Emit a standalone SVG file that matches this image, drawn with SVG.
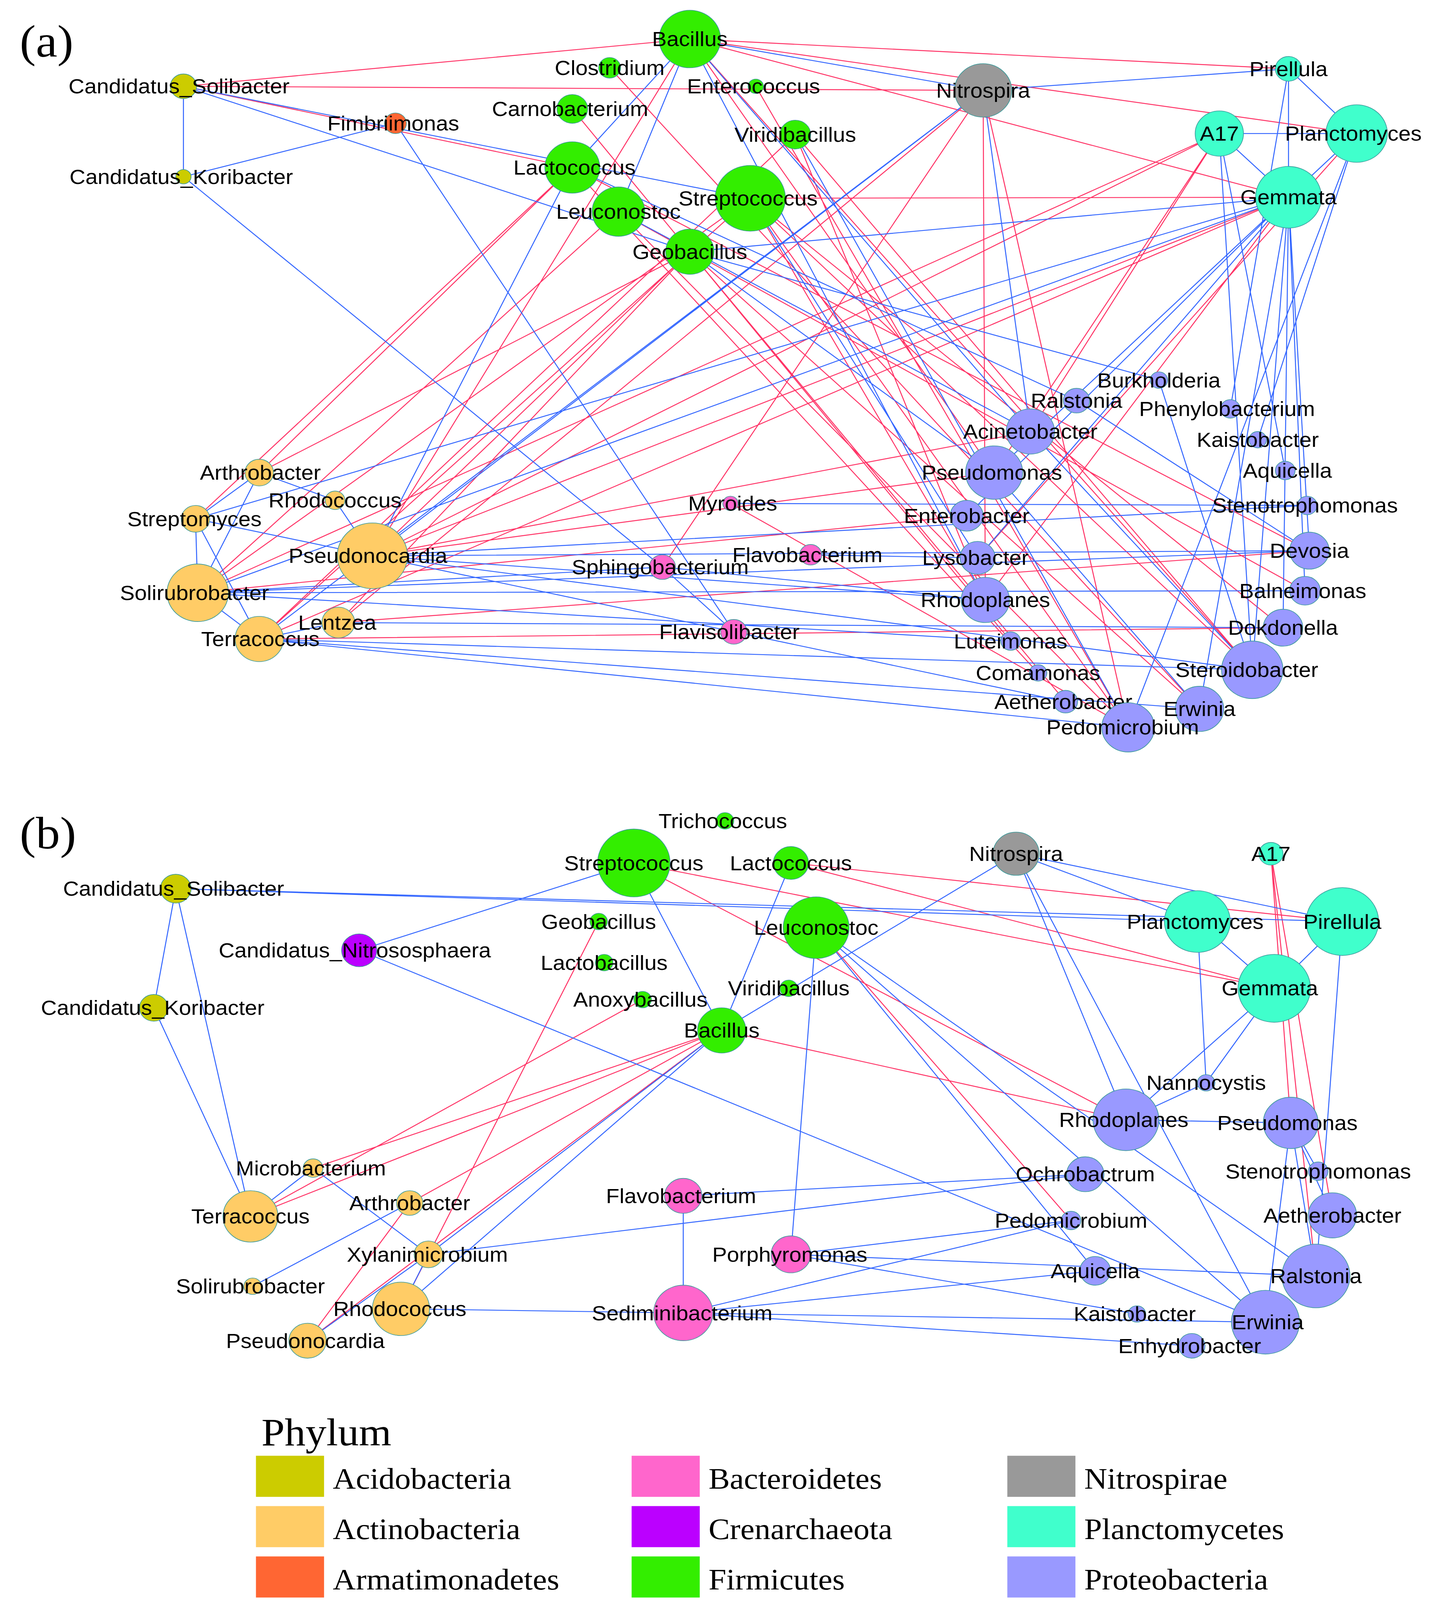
<svg xmlns="http://www.w3.org/2000/svg" width="3685" height="4430" viewBox="0 0 3685 4430">
<style>
.r{fill:none;stroke:#ff3366;stroke-width:0.9}
.b{fill:none;stroke:#3366ff;stroke-width:0.9}
circle{stroke:#3a9a9a;stroke-width:0.6}
text{font-family:"Liberation Sans",Arial,sans-serif;font-size:20px;fill:#000;text-anchor:middle}
.ser{font-family:"Liberation Serif","Times New Roman",serif;text-anchor:start}
.ac{fill:#cccc00}.at{fill:#ffcc66}.am{fill:#ff6633}.bc{fill:#ff66cc}.cr{fill:#bb00ff}.fi{fill:#33ee00}.ni{fill:#999999}.pl{fill:#40ffcc}.pr{fill:#9999ff}
</style>
<rect width="3685" height="4430" fill="#fff"/>
<g transform="scale(2.813 2.63)">
<text class="ser" x="18" y="55" style="font-size:44px">(a)</text>
<text class="ser" x="18" y="826" style="font-size:44px">(b)</text>
<g id="connectors">
<path class="r" d="M628 38L905 460M628 38L1140 652M628 38L339 541M628 38L1173 192M628 38L167 84M628 38L1235 130M628 38L1173 67M683 193L1027 708M683 193L1140 652M683 193L236 622M683 193L180 577M683 193L1168 611M683 193L897 584M683 193L1173 192M628 245L236 460M628 245L339 541M628 245L1092 690M628 245L970 683M628 245L308 606M521 163L236 460M521 163L1192 536M521 163L945 655M521 163L178 505M563 206L180 577M563 206L1027 708M563 206L1188 575M724 131L1140 652M724 131L897 584M724 131L236 622M521 106L920 624M555 66L1092 690M688 84L1027 708M895 88L1027 708M895 88L897 584M895 88L603 552M895 88L308 606M1110 130L339 541M1110 130L180 577M1110 130L938 420M1110 130L905 460M1173 192L339 541M1173 192L236 622M1235 130L890 543M1173 192L897 584M339 541L905 460M339 541L938 420M180 577L880 502M236 622L1168 611M308 606L1192 536M167 84L521 163M167 84L895 88M665 490L1027 708"/>
<path class="b" d="M167 84L167 172M167 84L628 245M167 84L683 193M167 172L603 552M360 120L167 172M360 120L668 615M628 38L521 163M628 38L895 88M628 38L563 206M628 38L938 420M628 38L897 584M1173 192L1235 130M1173 192L1110 130M1173 192L1173 67M1235 130L1110 130M1173 67L1235 130M1173 192L1192 536M1173 192L1140 652M1173 192L1092 690M1173 192L1188 575M1173 192L1168 611M1173 192L890 543M1173 192L880 502M1173 192L180 577M1173 192L178 505M1173 192L628 245M1235 130L1027 708M1235 130L905 460M1235 130L1145 428M1110 130L1170 458M1110 130L1140 652M1173 67L895 88M1173 67L1120 398M895 88L339 541M895 88L236 622M895 88L938 420M339 541L1192 536M339 541L1190 492M339 541L1140 652M339 541L897 584M180 577L603 552M180 577L1192 536M180 577L1188 575M180 577L920 624M236 622L1027 708M236 622L1140 652M236 622L1092 690M308 606L1168 611M236 460L178 505M236 460L180 577M178 505L180 577M178 505L236 622M180 577L236 622M603 552L668 615M738 540L890 543M665 490L1190 492M603 552L897 584M668 615L339 541M668 615L970 683M683 193L890 543M563 206L938 420M521 163L980 390M628 245L905 460M628 245L1055 370M724 131L1027 708M938 420L1140 652M905 460L1092 690M980 390L1192 536M1055 370L1140 652M339 541L521 163M236 460L305 487M305 487L339 541M308 606L236 622M178 505L339 541"/>
<path class="r" d="M577 840L1160 962M577 840L1025 1090M720 840L1222 897M720 840L1160 962M657 1003L228 1184M657 1003L1025 1090M657 1003L280 1305M657 1003L373 1171M657 1003L285 1137M545 897L365 1274M585 973L228 1184M1157 831L1175 1093M1157 831L1213 1183M1157 831L1198 1242M280 1305L373 1171M743 903L975 1188"/>
<path class="b" d="M160 865L140 981M160 865L228 1184M140 981L228 1184M160 865L1090 897M160 865L1222 897M327 925L577 840M327 925L1152 1287M577 840L657 1003M720 840L657 1003M743 903L720 1221M743 903L1152 1287M743 903L1198 1242M743 903L997 1237M657 1003L365 1274M657 1003L390 1221M925 831L1152 1287M925 831L1025 1090M925 831L1222 897M925 831L1090 897M925 831L657 1003M1090 897L1160 962M1222 897L1160 962M1160 962L1098 1054M1160 962L1025 1090M1090 897L1098 1054M1222 897L1198 1242M1175 1093L1025 1090M1175 1093L1198 1242M1175 1093L1152 1287M1098 1054L1025 1090M988 1143L622 1164M988 1143L390 1221M975 1188L720 1221M997 1237L622 1278M720 1221L1035 1279M720 1221L1198 1242M622 1278L1152 1287M622 1278L1085 1310M622 1278L365 1274M622 1164L622 1278M228 1184L285 1137M285 1137L390 1221M373 1171L230 1252M365 1274L390 1221M280 1305L390 1221M1200 1140L1175 1093M1213 1183L1175 1093M622 1278L975 1188"/>
</g>
<g id="a-CS"><circle class="ac" cx="167" cy="84" r="12"/><text x="163" y="91">Candidatus_Solibacter</text></g>
<g id="a-CK"><circle class="ac" cx="167" cy="172" r="7"/><text x="165" y="179">Candidatus_Koribacter</text></g>
<g id="a-Fim"><circle class="am" cx="360" cy="120" r="10"/><text x="358" y="127">Fimbriimonas</text></g>
<g id="a-Bac"><circle class="fi" cx="628" cy="38" r="28"/><text x="628" y="45">Bacillus</text></g>
<g id="a-Clo"><circle class="fi" cx="555" cy="66" r="10"/><text x="555" y="73">Clostridium</text></g>
<g id="a-Ent"><circle class="fi" cx="688" cy="84" r="7"/><text x="686" y="91">Enterococcus</text></g>
<g id="a-Car"><circle class="fi" cx="521" cy="106" r="14"/><text x="519" y="113">Carnobacterium</text></g>
<g id="a-Vir"><circle class="fi" cx="724" cy="131" r="14"/><text x="724" y="138">Viridibacillus</text></g>
<g id="a-Lac"><circle class="fi" cx="521" cy="163" r="25"/><text x="523" y="170">Lactococcus</text></g>
<g id="a-Leu"><circle class="fi" cx="563" cy="206" r="24"/><text x="563" y="213">Leuconostoc</text></g>
<g id="a-Str"><circle class="fi" cx="683" cy="193" r="32"/><text x="681" y="200">Streptococcus</text></g>
<g id="a-Geo"><circle class="fi" cx="628" cy="245" r="22"/><text x="628" y="252">Geobacillus</text></g>
<g id="a-Nit"><circle class="ni" cx="895" cy="88" r="26"/><text x="895" y="95">Nitrospira</text></g>
<g id="a-Pir"><circle class="pl" cx="1173" cy="67" r="12"/><text x="1173" y="74">Pirellula</text></g>
<g id="a-A17"><circle class="pl" cx="1110" cy="130" r="22"/><text x="1110" y="137">A17</text></g>
<g id="a-Pla"><circle class="pl" cx="1235" cy="130" r="28"/><text x="1232" y="137">Planctomyces</text></g>
<g id="a-Gem"><circle class="pl" cx="1173" cy="192" r="30"/><text x="1173" y="199">Gemmata</text></g>
<g id="a-Bur"><circle class="pr" cx="1055" cy="370" r="8"/><text x="1055" y="377">Burkholderia</text></g>
<g id="a-Ral"><circle class="pr" cx="980" cy="390" r="12"/><text x="980" y="397">Ralstonia</text></g>
<g id="a-Phe"><circle class="pr" cx="1120" cy="398" r="9"/><text x="1117" y="405">Phenylobacterium</text></g>
<g id="a-Aci"><circle class="pr" cx="938" cy="420" r="22"/><text x="938" y="427">Acinetobacter</text></g>
<g id="a-Kai"><circle class="pr" cx="1145" cy="428" r="8"/><text x="1145" y="435">Kaistobacter</text></g>
<g id="a-Pse"><circle class="pr" cx="905" cy="460" r="26"/><text x="903" y="467">Pseudomonas</text></g>
<g id="a-Aqu"><circle class="pr" cx="1170" cy="458" r="9"/><text x="1172" y="465">Aquicella</text></g>
<g id="a-Stn"><circle class="pr" cx="1190" cy="492" r="9"/><text x="1188" y="499">Stenotrophomonas</text></g>
<g id="a-Ent2"><circle class="pr" cx="880" cy="502" r="15"/><text x="880" y="509">Enterobacter</text></g>
<g id="a-Dev"><circle class="pr" cx="1192" cy="536" r="18"/><text x="1192" y="543">Devosia</text></g>
<g id="a-Lys"><circle class="pr" cx="890" cy="543" r="16"/><text x="888" y="550">Lysobacter</text></g>
<g id="a-Bal"><circle class="pr" cx="1188" cy="575" r="14"/><text x="1186" y="582">Balneimonas</text></g>
<g id="a-Rho"><circle class="pr" cx="897" cy="584" r="22"/><text x="897" y="591">Rhodoplanes</text></g>
<g id="a-Dok"><circle class="pr" cx="1168" cy="611" r="18"/><text x="1168" y="618">Dokdonella</text></g>
<g id="a-Lut"><circle class="pr" cx="920" cy="624" r="9"/><text x="920" y="631">Luteimonas</text></g>
<g id="a-Ste"><circle class="pr" cx="1140" cy="652" r="28"/><text x="1135" y="659">Steroidobacter</text></g>
<g id="a-Com"><circle class="pr" cx="945" cy="655" r="8"/><text x="945" y="662">Comamonas</text></g>
<g id="a-Aet"><circle class="pr" cx="970" cy="683" r="11"/><text x="968" y="690">Aetherobacter</text></g>
<g id="a-Erw"><circle class="pr" cx="1092" cy="690" r="22"/><text x="1092" y="697">Erwinia</text></g>
<g id="a-Ped"><circle class="pr" cx="1027" cy="708" r="24"/><text x="1022" y="715">Pedomicrobium</text></g>
<g id="a-Myr"><circle class="bc" cx="665" cy="490" r="7"/><text x="667" y="497">Myroides</text></g>
<g id="a-Flv"><circle class="bc" cx="738" cy="540" r="10"/><text x="735" y="547">Flavobacterium</text></g>
<g id="a-Sph"><circle class="bc" cx="603" cy="552" r="12"/><text x="601" y="559">Sphingobacterium</text></g>
<g id="a-Fls"><circle class="bc" cx="668" cy="615" r="12"/><text x="664" y="622">Flavisolibacter</text></g>
<g id="a-Art"><circle class="at" cx="236" cy="460" r="13"/><text x="237" y="467">Arthrobacter</text></g>
<g id="a-Rco"><circle class="at" cx="305" cy="487" r="9"/><text x="305" y="494">Rhodococcus</text></g>
<g id="a-Stm"><circle class="at" cx="178" cy="505" r="13"/><text x="177" y="512">Streptomyces</text></g>
<g id="a-Pnc"><circle class="at" cx="339" cy="541" r="32"/><text x="335" y="548">Pseudonocardia</text></g>
<g id="a-Sol"><circle class="at" cx="180" cy="577" r="28"/><text x="177" y="584">Solirubrobacter</text></g>
<g id="a-Len"><circle class="at" cx="308" cy="606" r="15"/><text x="307" y="613">Lentzea</text></g>
<g id="a-Ter"><circle class="at" cx="236" cy="622" r="22"/><text x="237" y="629">Terracoccus</text></g>
<g id="b-Tri"><circle class="fi" cx="660" cy="799" r="8"/><text x="658" y="806">Trichococcus</text></g>
<g id="b-Str"><circle class="fi" cx="577" cy="840" r="33"/><text x="577" y="847">Streptococcus</text></g>
<g id="b-Lac"><circle class="fi" cx="720" cy="840" r="16"/><text x="720" y="847">Lactococcus</text></g>
<g id="b-Geo"><circle class="fi" cx="545" cy="897" r="8"/><text x="545" y="904">Geobacillus</text></g>
<g id="b-Leu"><circle class="fi" cx="743" cy="903" r="30"/><text x="743" y="910">Leuconostoc</text></g>
<g id="b-Lcb"><circle class="fi" cx="550" cy="937" r="8"/><text x="550" y="944">Lactobacillus</text></g>
<g id="b-Vir"><circle class="fi" cx="718" cy="962" r="8"/><text x="718" y="969">Viridibacillus</text></g>
<g id="b-Anx"><circle class="fi" cx="585" cy="973" r="8"/><text x="583" y="980">Anoxybacillus</text></g>
<g id="b-Bac"><circle class="fi" cx="657" cy="1003" r="22"/><text x="657" y="1010">Bacillus</text></g>
<g id="b-Nit"><circle class="ni" cx="925" cy="831" r="21"/><text x="925" y="838">Nitrospira</text></g>
<g id="b-A17"><circle class="pl" cx="1157" cy="831" r="11"/><text x="1157" y="838">A17</text></g>
<g id="b-Pla"><circle class="pl" cx="1090" cy="897" r="30"/><text x="1088" y="904">Planctomyces</text></g>
<g id="b-Pir"><circle class="pl" cx="1222" cy="897" r="33"/><text x="1222" y="904">Pirellula</text></g>
<g id="b-Gem"><circle class="pl" cx="1160" cy="962" r="33"/><text x="1156" y="969">Gemmata</text></g>
<g id="b-CS"><circle class="ac" cx="160" cy="865" r="14"/><text x="158" y="872">Candidatus_Solibacter</text></g>
<g id="b-Nso"><circle class="cr" cx="327" cy="925" r="16"/><text x="323" y="932">Candidatus_Nitrososphaera</text></g>
<g id="b-CK"><circle class="ac" cx="140" cy="981" r="13"/><text x="139" y="988">Candidatus_Koribacter</text></g>
<g id="b-Nan"><circle class="pr" cx="1098" cy="1054" r="8"/><text x="1098" y="1061">Nannocystis</text></g>
<g id="b-Rhp"><circle class="pr" cx="1025" cy="1090" r="30"/><text x="1023" y="1097">Rhodoplanes</text></g>
<g id="b-Pse"><circle class="pr" cx="1175" cy="1093" r="25"/><text x="1172" y="1100">Pseudomonas</text></g>
<g id="b-Stn"><circle class="pr" cx="1200" cy="1140" r="9"/><text x="1200" y="1147">Stenotrophomonas</text></g>
<g id="b-Och"><circle class="pr" cx="988" cy="1143" r="17"/><text x="988" y="1150">Ochrobactrum</text></g>
<g id="b-Aet"><circle class="pr" cx="1213" cy="1183" r="22"/><text x="1213" y="1190">Aetherobacter</text></g>
<g id="b-Ped"><circle class="pr" cx="975" cy="1188" r="9"/><text x="975" y="1195">Pedomicrobium</text></g>
<g id="b-Aqu"><circle class="pr" cx="997" cy="1237" r="14"/><text x="997" y="1244">Aquicella</text></g>
<g id="b-Ral"><circle class="pr" cx="1198" cy="1242" r="31"/><text x="1198" y="1249">Ralstonia</text></g>
<g id="b-Kai"><circle class="pr" cx="1035" cy="1279" r="8"/><text x="1033" y="1286">Kaistobacter</text></g>
<g id="b-Erw"><circle class="pr" cx="1152" cy="1287" r="31"/><text x="1154" y="1294">Erwinia</text></g>
<g id="b-Enh"><circle class="pr" cx="1085" cy="1310" r="12"/><text x="1083" y="1317">Enhydrobacter</text></g>
<g id="b-Mic"><circle class="at" cx="285" cy="1137" r="9"/><text x="283" y="1144">Microbacterium</text></g>
<g id="b-Ter"><circle class="at" cx="228" cy="1184" r="25"/><text x="228" y="1191">Terracoccus</text></g>
<g id="b-Art"><circle class="at" cx="373" cy="1171" r="12"/><text x="373" y="1178">Arthrobacter</text></g>
<g id="b-Xyl"><circle class="at" cx="390" cy="1221" r="13"/><text x="389" y="1228">Xylanimicrobium</text></g>
<g id="b-Sol"><circle class="at" cx="230" cy="1252" r="8"/><text x="228" y="1259">Solirubrobacter</text></g>
<g id="b-Rco"><circle class="at" cx="365" cy="1274" r="26"/><text x="364" y="1281">Rhodococcus</text></g>
<g id="b-Pnc"><circle class="at" cx="280" cy="1305" r="17"/><text x="278" y="1312">Pseudonocardia</text></g>
<g id="b-Flv"><circle class="bc" cx="622" cy="1164" r="17"/><text x="620" y="1171">Flavobacterium</text></g>
<g id="b-Por"><circle class="bc" cx="720" cy="1221" r="18"/><text x="719" y="1228">Porphyromonas</text></g>
<g id="b-Sed"><circle class="bc" cx="622" cy="1278" r="27"/><text x="621" y="1285">Sediminibacterium</text></g>
<g id="legend">
<text class="ser" x="238" y="1407" style="font-size:38px">Phylum</text>
<rect class="ac" x="233" y="1417" width="62" height="40"/><text class="ser" x="303" y="1449" style="font-size:29px">Acidobacteria</text>
<rect class="at" x="233" y="1466" width="62" height="40"/><text class="ser" x="303" y="1498" style="font-size:29px">Actinobacteria</text>
<rect class="am" x="233" y="1515" width="62" height="40"/><text class="ser" x="303" y="1547" style="font-size:29px">Armatimonadetes</text>
<rect class="bc" x="575" y="1417" width="62" height="40"/><text class="ser" x="645" y="1449" style="font-size:29px">Bacteroidetes</text>
<rect class="cr" x="575" y="1466" width="62" height="40"/><text class="ser" x="645" y="1498" style="font-size:29px">Crenarchaeota</text>
<rect class="fi" x="575" y="1515" width="62" height="40"/><text class="ser" x="645" y="1547" style="font-size:29px">Firmicutes</text>
<rect class="ni" x="917" y="1417" width="62" height="40"/><text class="ser" x="987" y="1449" style="font-size:29px">Nitrospirae</text>
<rect class="pl" x="917" y="1466" width="62" height="40"/><text class="ser" x="987" y="1498" style="font-size:29px">Planctomycetes</text>
<rect class="pr" x="917" y="1515" width="62" height="40"/><text class="ser" x="987" y="1547" style="font-size:29px">Proteobacteria</text>
</g>
</g>
</svg>
